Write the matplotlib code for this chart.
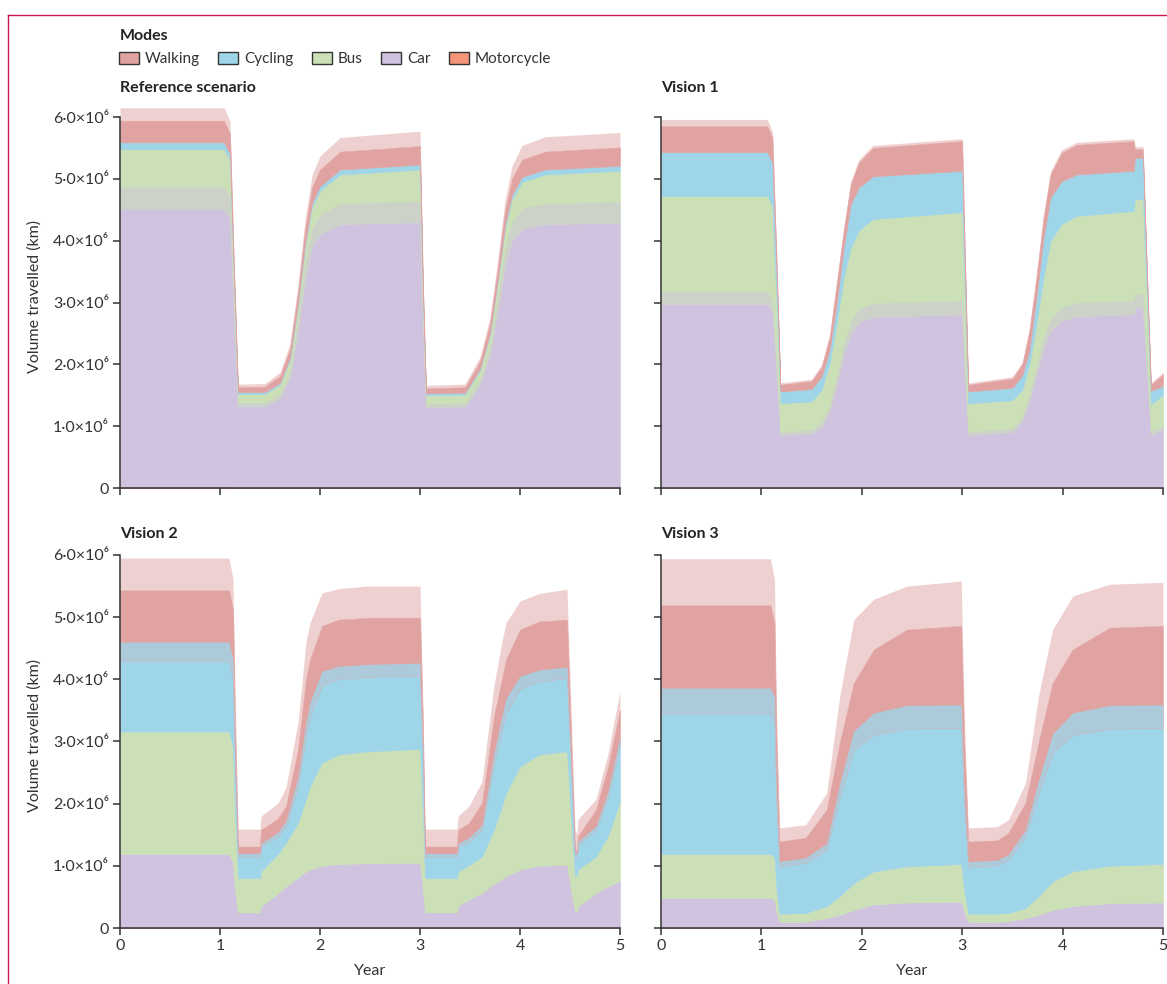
import matplotlib.pyplot as plt
from matplotlib.patches import Patch
from matplotlib.lines import Line2D
import numpy as np

plt.rcParams['font.family'] = ['Lato', 'DejaVu Sans']

# stacking order, bottom to top
stack_modes = ["Motorcycle", "Car", "Bus", "Cycling", "Walking"]
legend_modes = ["Walking", "Cycling", "Bus", "Car", "Motorcycle"]
mode_colors = {"Walking": "#e1a3a2", "Cycling": "#9fd5e8", "Bus": "#cbe0b6",
               "Car": "#d0c3df", "Motorcycle": "#f4957a"}

y_ticks = [0, 1e6, 2e6, 3e6, 4e6, 5e6, 6e6]
y_tick_labels = ["0", "1·0×10⁶", "2·0×10⁶", "3·0×10⁶", "4·0×10⁶", "5·0×10⁶", "6·0×10⁶"]
x_ticks = [0, 1, 2, 3, 4, 5]

# ---- values in million km (solid layer thickness) ----
# "spike" = extra height reached by the weekly peaks above a layer's top
ref_years = [0, 1.04, 1.10, 1.14, 1.18, 1.45, 1.60, 1.70, 1.78, 1.85, 1.92, 2.0, 2.2,
             3.0, 3.03, 3.06, 3.45, 3.60, 3.70, 3.78, 3.85, 3.92, 4.02, 4.25, 5.0]
ref_motorcycle = [0.02, 0.02, 0.02, 0.01, 0.01, 0.01, 0.01, 0.01, 0.01, 0.01, 0.01, 0.01, 0.01,
                  0.01, 0.01, 0.01, 0.01, 0.01, 0.01, 0.01, 0.01, 0.01, 0.01, 0.01, 0.01]
ref_car = [4.50, 4.50, 4.35, 2.80, 1.32, 1.32, 1.45, 1.79, 2.56, 3.38, 3.91, 4.10, 4.26,
           4.29, 2.60, 1.30, 1.31, 1.67, 2.17, 2.92, 3.62, 4.00, 4.19, 4.26, 4.28]
ref_bus = [0.96, 0.96, 0.93, 0.50, 0.19, 0.19, 0.21, 0.27, 0.37, 0.50, 0.62, 0.70, 0.80,
           0.85, 0.45, 0.19, 0.19, 0.22, 0.29, 0.42, 0.56, 0.66, 0.75, 0.80, 0.84]
ref_cycling = [0.11, 0.11, 0.10, 0.06, 0.03, 0.03, 0.03, 0.04, 0.05, 0.06, 0.07, 0.07, 0.08,
               0.08, 0.05, 0.03, 0.03, 0.03, 0.04, 0.05, 0.06, 0.07, 0.08, 0.08, 0.08]
ref_walking = [0.35, 0.35, 0.33, 0.20, 0.08, 0.09, 0.11, 0.14, 0.18, 0.22, 0.25, 0.27, 0.29,
               0.30, 0.18, 0.08, 0.09, 0.12, 0.15, 0.19, 0.23, 0.26, 0.28, 0.29, 0.30]
ref_car_spike = [0.35, 0.35, 0.33, 0.20, 0.05, 0.05, 0.06, 0.10, 0.16, 0.22, 0.28, 0.31, 0.33,
                 0.34, 0.20, 0.05, 0.05, 0.07, 0.11, 0.17, 0.24, 0.29, 0.32, 0.33, 0.34]
ref_top_spike = [0.21, 0.21, 0.20, 0.12, 0.05, 0.05, 0.06, 0.09, 0.13, 0.17, 0.20, 0.22, 0.23,
                 0.24, 0.14, 0.05, 0.05, 0.07, 0.10, 0.14, 0.18, 0.21, 0.23, 0.24, 0.24]

v1_years = [0, 1.06, 1.11, 1.15, 1.19, 1.50, 1.60, 1.68, 1.75, 1.82, 1.89, 1.97, 2.11,
            3.0, 3.03, 3.06, 3.50, 3.60, 3.67, 3.74, 3.81, 3.88, 3.99, 4.14,
            4.71, 4.72, 4.80, 4.84, 4.88, 5.0]
v1_motorcycle = [0.01, 0.01, 0.01, 0.01, 0.01, 0.01, 0.01, 0.01, 0.01, 0.01, 0.01, 0.01, 0.01,
                 0.01, 0.01, 0.01, 0.01, 0.01, 0.01, 0.01, 0.01, 0.01, 0.01, 0.01,
                 0.01, 0.01, 0.01, 0.01, 0.01, 0.01]
v1_car = [2.97, 2.97, 2.85, 1.90, 0.85, 0.88, 0.99, 1.25, 1.68, 2.17, 2.49, 2.68, 2.76,
          2.80, 1.80, 0.85, 0.90, 1.09, 1.42, 1.84, 2.27, 2.54, 2.70, 2.77,
          2.80, 2.91, 2.91, 1.90, 0.86, 0.94]
v1_bus = [1.74, 1.74, 1.70, 1.10, 0.51, 0.51, 0.59, 0.75, 0.97, 1.23, 1.39, 1.47, 1.58,
          1.65, 1.10, 0.51, 0.51, 0.49, 0.58, 0.81, 1.13, 1.45, 1.56, 1.62,
          1.67, 1.75, 1.75, 1.10, 0.48, 0.56]
v1_cycling = [0.71, 0.71, 0.70, 0.50, 0.19, 0.20, 0.21, 0.22, 0.32, 0.48, 0.70, 0.70, 0.69,
              0.67, 0.40, 0.19, 0.20, 0.24, 0.22, 0.43, 0.64, 0.70, 0.69, 0.67,
              0.65, 0.67, 0.67, 0.40, 0.22, 0.14]
v1_walking = [0.42, 0.42, 0.40, 0.25, 0.11, 0.13, 0.16, 0.21, 0.32, 0.27, 0.32, 0.40, 0.46,
              0.48, 0.30, 0.11, 0.15, 0.18, 0.32, 0.32, 0.32, 0.37, 0.46, 0.48,
              0.48, 0.14, 0.14, 0.15, 0.10, 0.19]
v1_car_spike = [0.20, 0.20, 0.19, 0.12, 0.05, 0.05, 0.06, 0.08, 0.12, 0.16, 0.19, 0.21, 0.22,
                0.22, 0.12, 0.05, 0.05, 0.06, 0.08, 0.12, 0.16, 0.19, 0.21, 0.22,
                0.22, 0.22, 0.22, 0.12, 0.05, 0.05]
v1_top_spike = [0.11, 0.11, 0.10, 0.06, 0.03, 0.03, 0.03, 0.04, 0.04, 0.05, 0.05, 0.05, 0.04,
                0.04, 0.03, 0.03, 0.03, 0.03, 0.04, 0.04, 0.05, 0.05, 0.05, 0.04,
                0.04, 0.04, 0.04, 0.03, 0.03, 0.03]

v2_years = [0, 1.09, 1.13, 1.15, 1.18, 1.40, 1.41, 1.58, 1.66, 1.78, 1.86, 1.90, 2.02, 2.19, 2.47,
            3.0, 3.03, 3.05, 3.37, 3.38, 3.49, 3.62, 3.74, 3.82, 3.86, 4.0, 4.19, 4.47,
            4.51, 4.55, 4.57, 4.58, 4.76, 4.88, 5.0]
v2_motorcycle = [0.01, 0.01, 0.01, 0.01, 0.01, 0.01, 0.01, 0.01, 0.01, 0.01, 0.01, 0.01, 0.01, 0.01, 0.01,
                 0.01, 0.01, 0.01, 0.01, 0.01, 0.01, 0.01, 0.01, 0.01, 0.01, 0.01, 0.01, 0.01,
                 0.01, 0.01, 0.01, 0.01, 0.01, 0.01, 0.01]
v2_car = [1.18, 1.18, 1.05, 0.60, 0.24, 0.24, 0.34, 0.55, 0.66, 0.80, 0.90, 0.93, 0.99, 1.02, 1.03,
          1.04, 0.60, 0.24, 0.24, 0.34, 0.45, 0.55, 0.70, 0.77, 0.82, 0.93, 0.99, 1.01,
          0.60, 0.26, 0.26, 0.34, 0.55, 0.66, 0.75]
v2_bus = [1.97, 1.97, 1.85, 1.30, 0.55, 0.55, 0.56, 0.63, 0.70, 0.88, 1.17, 1.34, 1.66, 1.76, 1.80,
          1.83, 1.20, 0.55, 0.55, 0.56, 0.55, 0.59, 0.87, 1.18, 1.34, 1.66, 1.79, 1.82,
          1.20, 0.56, 0.59, 0.59, 0.59, 0.81, 1.28]
v2_cycling = [1.13, 1.13, 1.10, 0.70, 0.35, 0.35, 0.40, 0.29, 0.27, 0.59, 1.03, 1.13, 1.25, 1.22, 1.20,
              1.18, 0.90, 0.35, 0.35, 0.40, 0.38, 0.43, 1.08, 1.25, 1.30, 1.25, 1.18, 1.18,
              0.80, 0.32, 0.29, 0.40, 0.43, 0.64, 0.94]
v2_walking = [1.14, 1.14, 1.10, 0.70, 0.16, 0.16, 0.27, 0.28, 0.32, 0.59, 0.90, 0.91, 0.95, 0.95, 0.95,
              0.93, 0.50, 0.16, 0.16, 0.27, 0.30, 0.43, 0.75, 0.80, 0.85, 0.95, 0.96, 0.94,
              0.50, 0.08, 0.11, 0.14, 0.32, 0.48, 0.53]
v2_cycling_spike = [0.31, 0.31, 0.30, 0.20, 0.05, 0.05, 0.05, 0.06, 0.08, 0.15, 0.20, 0.22, 0.22, 0.20, 0.20,
                    0.20, 0.12, 0.05, 0.05, 0.05, 0.06, 0.08, 0.15, 0.20, 0.22, 0.20, 0.18, 0.18,
                    0.10, 0.05, 0.05, 0.05, 0.06, 0.08, 0.10]
v2_top_spike = [0.52, 0.52, 0.50, 0.50, 0.28, 0.28, 0.22, 0.25, 0.30, 0.44, 0.60, 0.59, 0.53, 0.50, 0.51,
                0.51, 0.30, 0.28, 0.28, 0.22, 0.27, 0.35, 0.50, 0.60, 0.59, 0.46, 0.45, 0.49,
                0.40, 0.35, 0.25, 0.27, 0.17, 0.21, 0.30]

v3_years = [0, 1.09, 1.13, 1.15, 1.18, 1.44, 1.65, 1.78, 1.92, 2.12, 2.45, 2.99,
            3.02, 3.06, 3.35, 3.46, 3.63, 3.76, 3.90, 4.10, 4.47, 5.0]
v3_motorcycle = [0.01, 0.01, 0.01, 0.01, 0.01, 0.01, 0.01, 0.01, 0.01, 0.01, 0.01, 0.01,
                 0.01, 0.01, 0.01, 0.01, 0.01, 0.01, 0.01, 0.01, 0.01, 0.01]
v3_car = [0.47, 0.47, 0.45, 0.25, 0.09, 0.09, 0.15, 0.20, 0.28, 0.37, 0.40, 0.41,
          0.25, 0.09, 0.09, 0.10, 0.15, 0.20, 0.28, 0.34, 0.39, 0.40]
v3_bus = [0.71, 0.71, 0.68, 0.35, 0.13, 0.14, 0.19, 0.30, 0.43, 0.53, 0.58, 0.61,
          0.35, 0.13, 0.13, 0.13, 0.16, 0.30, 0.46, 0.56, 0.60, 0.62]
v3_cycling = [2.26, 2.26, 2.17, 1.40, 0.76, 0.81, 0.91, 1.61, 2.15, 2.20, 2.22, 2.19,
              1.40, 0.76, 0.78, 0.86, 1.16, 1.66, 2.07, 2.20, 2.21, 2.19]
v3_walking = [1.74, 1.74, 1.60, 1.00, 0.40, 0.40, 0.64, 0.86, 1.07, 1.37, 1.59, 1.64,
              1.00, 0.40, 0.40, 0.43, 0.53, 0.81, 1.12, 1.37, 1.62, 1.64]
v3_cycling_spike = [0.41, 0.41, 0.40, 0.25, 0.08, 0.08, 0.10, 0.20, 0.30, 0.35, 0.37, 0.37,
                    0.22, 0.08, 0.08, 0.08, 0.10, 0.20, 0.30, 0.35, 0.37, 0.37]
v3_top_spike = [0.75, 0.75, 0.70, 0.50, 0.22, 0.21, 0.27, 0.75, 1.02, 0.81, 0.70, 0.72,
                0.40, 0.22, 0.22, 0.21, 0.32, 0.75, 0.86, 0.86, 0.70, 0.70]

panels = [
    ("Reference scenario", ref_years,
     [ref_motorcycle, ref_car, ref_bus, ref_cycling, ref_walking], "Car", ref_car_spike, ref_top_spike),
    ("Vision 1", v1_years,
     [v1_motorcycle, v1_car, v1_bus, v1_cycling, v1_walking], "Car", v1_car_spike, v1_top_spike),
    ("Vision 2", v2_years,
     [v2_motorcycle, v2_car, v2_bus, v2_cycling, v2_walking], "Cycling", v2_cycling_spike, v2_top_spike),
    ("Vision 3", v3_years,
     [v3_motorcycle, v3_car, v3_bus, v3_cycling, v3_walking], "Cycling", v3_cycling_spike, v3_top_spike),
]

W, H = 1167, 984
fig = plt.figure(figsize=(W / 100, H / 100), dpi=100)

# axes rectangles in pixels: left, right, y of zero, px per 1e6, title baseline
boxes = [(120, 620, 488, 61.83, 92), (661, 1163, 488, 61.83, 92),
         (120, 620, 928, 62.17, 538), (661, 1163, 928, 62.17, 538)]
ymax = 6.2e6
text_col = "#333333"
# how strongly the weekly peaks of a lower layer tint the layer above
fringe_alpha = {"Car": 0.45, "Cycling": 0.8}


def draw_panel(ax, years, layers, inner_mode, inner_spike, top_spike):
    x = np.array(years)
    vals = np.array(layers) * 1e6
    ax.stackplot(x, vals, colors=[mode_colors[m] for m in stack_modes],
                 linewidth=0.4, edgecolor="face")
    cum = np.cumsum(vals, axis=0)
    k = stack_modes.index(inner_mode)
    ax.fill_between(x, cum[k], cum[k] + np.array(inner_spike) * 1e6,
                    color=mode_colors[inner_mode], alpha=fringe_alpha[inner_mode], linewidth=0)
    ax.fill_between(x, cum[-1], cum[-1] + np.array(top_spike) * 1e6,
                    color=mode_colors["Walking"], alpha=0.5, linewidth=0)


for i, (title, years, layers, inner_mode, inner_spike, top_spike) in enumerate(panels):
    left, right, y0, per, title_y = boxes[i]
    h = per * ymax / 1e6
    ax = fig.add_axes([left / W, (H - y0) / H, (right - left) / W, h / H])
    draw_panel(ax, years, layers, inner_mode, inner_spike, top_spike)
    ax.set_xlim(0, 5)
    ax.set_ylim(0, ymax)
    for s in ["top", "right"]:
        ax.spines[s].set_visible(False)
    ax.spines["left"].set_bounds(0, 6e6)
    for s in ["left", "bottom"]:
        ax.spines[s].set_color(text_col)
        ax.spines[s].set_linewidth(1.1)
        ax.spines[s].set_zorder(5)
    ax.set_yticks(y_ticks)
    ax.set_xticks(x_ticks)
    ax.tick_params(direction="out", length=5, width=1.1, color=text_col,
                   labelcolor=text_col, labelsize=11.5, pad=3)
    if i % 2 == 0:
        ax.set_yticklabels(y_tick_labels)
        ax.set_ylabel("Volume travelled (km)", fontsize=11.5, color=text_col, labelpad=8)
    else:
        ax.set_yticklabels([])
    if i >= 2:
        ax.set_xticklabels([str(t) for t in x_ticks])
        ax.set_xlabel("Year", fontsize=11.5, color=text_col, labelpad=8)
    else:
        ax.set_xticklabels([])
    fig.text(left / W, 1 - title_y / H, title, fontsize=11.5,
             fontweight="bold", color="#222222", va="baseline", ha="left")

# legend
fig.text(120 / W, 1 - 40 / H, "Modes", fontsize=11.5, fontweight="bold",
         color="#222222", va="baseline", ha="left")
handles = [Patch(facecolor=mode_colors[m], edgecolor="#333333", linewidth=1) for m in legend_modes]
fig.legend(handles, legend_modes, loc="center left", bbox_to_anchor=(119 / W, 1 - 59 / H),
           ncol=5, frameon=False, fontsize=11, handlelength=1.3, handleheight=0.8,
           handletextpad=0.4, columnspacing=1.2, borderpad=0, borderaxespad=0,
           labelcolor=text_col)

# journal frame
frame_col = "#c8174a"
fig.add_artist(Line2D([8 / W, 1], [1 - 15 / H, 1 - 15 / H], color=frame_col, linewidth=1))
fig.add_artist(Line2D([8 / W, 8 / W], [0, 1 - 15 / H], color=frame_col, linewidth=1))

fig.savefig("out.png", dpi=100)
